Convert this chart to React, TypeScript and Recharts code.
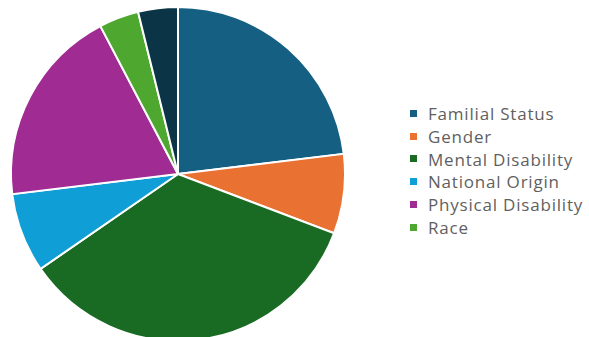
import { PieChart, Pie, Cell, Legend } from 'recharts'

const categories = [
  'Familial Status',
  'Gender',
  'Mental Disability',
  'National Origin',
  'Physical Disability',
  'Race',
  'Other',
]
const counts = [6, 2, 9, 2, 5, 1, 1]
const colors = ['#156082', '#E97132', '#196B24', '#0F9ED5', '#A02B93', '#4EA72E', '#0B3547']
// only the first six show up in the legend of the original
const legendCount = 6

const data = categories.map((name, i) => ({ name, value: counts[i] }))

function LegendBox() {
  return (
    <div
      style={{
        fontFamily: '"Open Sans", sans-serif',
        fontSize: 17,
        letterSpacing: 0.8,
        color: '#5f5f5f',
      }}
    >
      {categories.slice(0, legendCount).map((name, i) => (
        <div key={name} style={{ display: 'flex', alignItems: 'center', height: 22.8, whiteSpace: 'nowrap' }}>
          <span
            style={{
              display: 'inline-block',
              width: 7,
              height: 7,
              background: colors[i],
              marginRight: 11,
            }}
          />
          {name}
        </div>
      ))}
    </div>
  )
}

export default function App() {
  return (
    <div style={{ position: 'absolute', left: 0, top: 0, width: 589, height: 337, background: '#fff' }}>
      <PieChart width={589} height={337} margin={{ top: 0, right: 0, bottom: 0, left: 0 }}>
        <Pie
          data={data}
          dataKey="value"
          nameKey="name"
          cx={178}
          cy={174}
          outerRadius={167}
          startAngle={90}
          endAngle={-270}
          stroke="#ffffff"
          strokeWidth={2}
          isAnimationActive={false}
        >
          {data.map((entry, index) => (
            <Cell key={`cell-${index}`} fill={colors[index]} />
          ))}
        </Pie>
        <Legend
          content={() => <LegendBox />}
          wrapperStyle={{ position: 'absolute', left: 410, top: 102, width: 179 }}
        />
      </PieChart>
    </div>
  )
}
